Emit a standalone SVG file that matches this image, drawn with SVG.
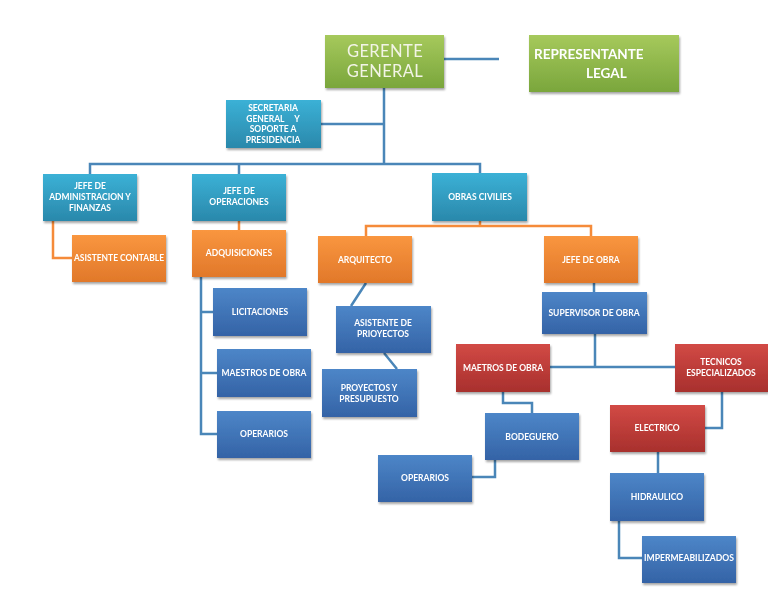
<svg xmlns="http://www.w3.org/2000/svg" width="768" height="594" viewBox="0 0 768 594">
<defs>
<linearGradient id="gGreen" x1="0" y1="0" x2="0" y2="1"><stop offset="0" stop-color="#a6c95c"/><stop offset="1" stop-color="#7aa63c"/></linearGradient>
<linearGradient id="gTeal" x1="0" y1="0" x2="0" y2="1"><stop offset="0" stop-color="#3bb1d6"/><stop offset="1" stop-color="#2a88ab"/></linearGradient>
<linearGradient id="gOrange" x1="0" y1="0" x2="0" y2="1"><stop offset="0" stop-color="#f9963f"/><stop offset="1" stop-color="#e1782a"/></linearGradient>
<linearGradient id="gBlue" x1="0" y1="0" x2="0" y2="1"><stop offset="0" stop-color="#4d86c8"/><stop offset="1" stop-color="#3463a6"/></linearGradient>
<linearGradient id="gRed" x1="0" y1="0" x2="0" y2="1"><stop offset="0" stop-color="#d24a45"/><stop offset="1" stop-color="#a8302d"/></linearGradient>
<filter id="sh" x="-10%" y="-10%" width="125%" height="130%"><feDropShadow dx="1" dy="2" stdDeviation="1.2" flood-color="#000" flood-opacity="0.35"/></filter>
</defs>
<style>
.b{filter:url(#sh)}
.green{fill:url(#gGreen)}
.teal{fill:url(#gTeal)}
.orange{fill:url(#gOrange)}
.blue{fill:url(#gBlue)}
.red{fill:url(#gRed)}
text{font-family:Lato,"Open Sans","Liberation Sans",sans-serif;font-weight:bold;font-size:8.5px;fill:#fff;text-anchor:middle;white-space:pre}
.big{font-weight:normal;font-size:16.5px;letter-spacing:0.4px;fill:#f2f4e6}
.rep{font-size:13.5px;text-anchor:start}
.cb{fill:none;stroke:#4a86b8;stroke-width:2.5}
.co{fill:none;stroke:#f58b3a;stroke-width:2.5}
</style>
<rect width="768" height="594" fill="#fff"/>
<g id="connectors">
<path class="cb" d="M444 59H499"/>
<path class="cb" d="M384 88V164M321 124H384M90 174V164H480V173M239 164V174"/>
<path class="co" d="M53 221V258H72"/>
<path class="co" d="M239 221V230"/>
<path class="co" d="M480 221V226H366V236M480 226H591V236"/>
<path class="cb" d="M201 277V434H217M201 312H213M201 373H217"/>
<path class="cb" d="M366 283L351 306M384 353L397 369"/>
<path class="cb" d="M594 283V292M595 334V367M550 367H675"/>
<path class="cb" d="M503 392V403H532V413M495 460V477H472"/>
<path class="cb" d="M722 392V428H705M658 452V473M619 521V558H642"/>
</g>
<g id="gerente" class="b"><rect class="green" x="325" y="35" width="119" height="53"/><text class="big" x="385" y="57">GERENTE</text><text class="big" x="385" y="77">GENERAL</text></g>
<g id="representante" class="b"><rect class="green" x="529" y="35" width="150" height="57"/><text class="rep" x="534" y="59">REPRESENTANTE</text><text class="rep" x="586" y="78">LEGAL</text></g>
<g id="secretaria" class="b"><rect class="teal" x="226" y="100" width="95" height="48"/><text x="273" y="111">SECRETARIA</text><text x="273" y="121.5" xml:space="preserve">GENERAL     Y</text><text x="273" y="132">SOPORTE A</text><text x="273" y="142.5">PRESIDENCIA</text></g>
<g id="jefe-admin" class="b"><rect class="teal" x="43" y="174" width="94" height="47"/><text x="90" y="189">JEFE DE</text><text x="90" y="200">ADMINISTRACION Y</text><text x="90" y="211">FINANZAS</text></g>
<g id="jefe-oper" class="b"><rect class="teal" x="192" y="174" width="94" height="47"/><text x="239" y="194">JEFE DE</text><text x="239" y="205">OPERACIONES</text></g>
<g id="obras-civiles" class="b"><rect class="teal" x="432" y="173" width="95" height="48"/><text x="480" y="200">OBRAS CIVILIES</text></g>
<g id="asistente-contable" class="b"><rect class="orange" x="72" y="235" width="94" height="47"/><text x="119" y="261" textLength="90" lengthAdjust="spacingAndGlyphs">ASISTENTE CONTABLE</text></g>
<g id="adquisiciones" class="b"><rect class="orange" x="192" y="230" width="94" height="47"/><text x="239" y="256">ADQUISICIONES</text></g>
<g id="arquitecto" class="b"><rect class="orange" x="318" y="236" width="94" height="47"/><text x="365" y="263">ARQUITECTO</text></g>
<g id="jefe-obra" class="b"><rect class="orange" x="544" y="236" width="94" height="47"/><text x="591" y="263">JEFE DE OBRA</text></g>
<g id="licitaciones" class="b"><rect class="blue" x="213" y="288" width="94" height="48"/><text x="260" y="315">LICITACIONES</text></g>
<g id="maestros-obra-1" class="b"><rect class="blue" x="217" y="349" width="94" height="48"/><text x="264" y="376">MAESTROS DE OBRA</text></g>
<g id="operarios-1" class="b"><rect class="blue" x="217" y="411" width="94" height="47"/><text x="264" y="437">OPERARIOS</text></g>
<g id="asistente-proyectos" class="b"><rect class="blue" x="336" y="306" width="95" height="47"/><text x="383" y="326">ASISTENTE DE</text><text x="383" y="337">PRIOYECTOS</text></g>
<g id="proyectos-presupuesto" class="b"><rect class="blue" x="322" y="369" width="95" height="48"/><text x="369" y="391">PROYECTOS Y</text><text x="369" y="401.5">PRESUPUESTO</text></g>
<g id="supervisor" class="b"><rect class="blue" x="542" y="292" width="105" height="42"/><text x="594" y="316">SUPERVISOR DE OBRA</text></g>
<g id="maetros-obra" class="b"><rect class="red" x="456" y="344" width="94" height="48"/><text x="503" y="371">MAETROS DE OBRA</text></g>
<g id="tecnicos" class="b"><rect class="red" x="675" y="344" width="93" height="48"/><text x="721" y="365">TECNICOS</text><text x="721" y="376">ESPECIALIZADOS</text></g>
<g id="bodeguero" class="b"><rect class="blue" x="485" y="413" width="94" height="47"/><text x="532" y="440">BODEGUERO</text></g>
<g id="operarios-2" class="b"><rect class="blue" x="378" y="455" width="94" height="47"/><text x="425" y="481">OPERARIOS</text></g>
<g id="electrico" class="b"><rect class="red" x="610" y="405" width="95" height="47"/><text x="657" y="431">ELECTRICO</text></g>
<g id="hidraulico" class="b"><rect class="blue" x="610" y="473" width="94" height="48"/><text x="657" y="500">HIDRAULICO</text></g>
<g id="impermeabilizados" class="b"><rect class="blue" x="642" y="536" width="94" height="47"/><text x="689" y="561" textLength="90" lengthAdjust="spacingAndGlyphs">IMPERMEABILIZADOS</text></g>
</svg>
